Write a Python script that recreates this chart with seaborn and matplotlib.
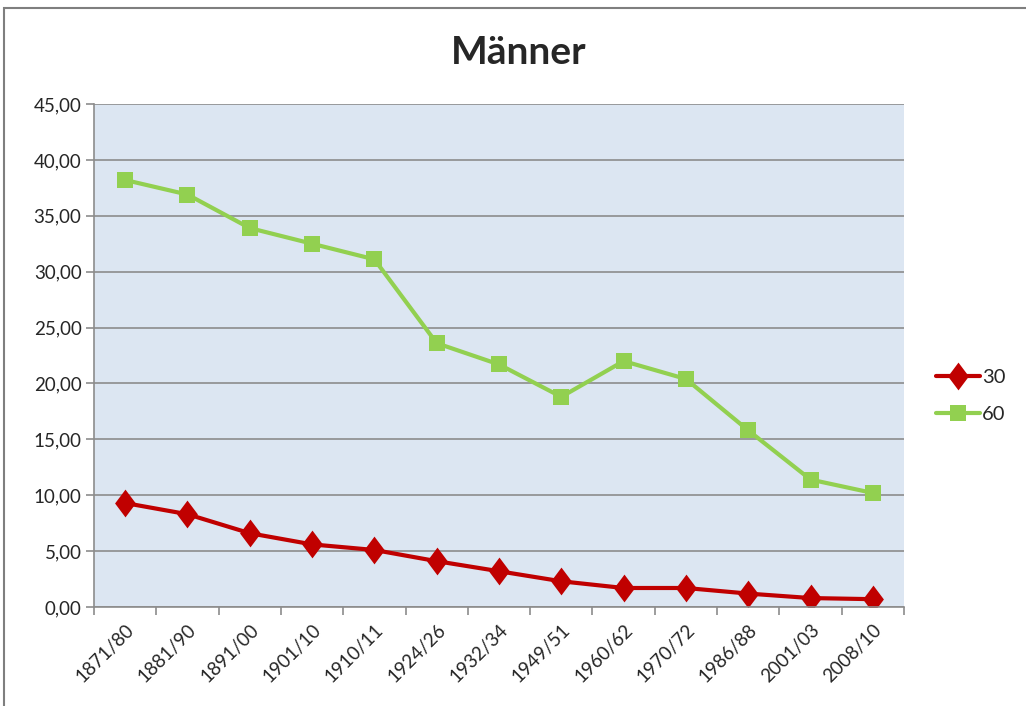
import numpy as np
import pandas as pd
import seaborn as sns
import matplotlib.pyplot as plt
from matplotlib.ticker import FuncFormatter, FixedLocator
from matplotlib.patches import Rectangle

perioden = ['1871/80', '1881/90', '1891/00', '1901/10', '1910/11', '1924/26', '1932/34',
            '1949/51', '1960/62', '1970/72', '1986/88', '2001/03', '2008/10']
werte_30 = [9.3, 8.3, 6.6, 5.6, 5.1, 4.1, 3.2, 2.3, 1.7, 1.7, 1.2, 0.8, 0.7]
werte_60 = [38.2, 36.9, 33.9, 32.5, 31.1, 23.6, 21.7, 18.8, 22.0, 20.4, 15.8, 11.4, 10.2]

df = pd.DataFrame({
    'Periode': perioden * 2,
    'Wert': werte_30 + werte_60,
    'Alter': ['30'] * len(perioden) + ['60'] * len(perioden),
})

sns.set_style('white')
plt.rcParams['font.family'] = ['Lato', 'DejaVu Sans']

fig = plt.figure(figsize=(10.26, 7.06), dpi=100)
ax = fig.add_axes([94 / 1026, 1 - 607 / 706, 810 / 1026, 503 / 706])
ax.set_facecolor('#DCE6F2')

# Excel-artige Raute (etwas schmaler als hoch)
raute = [(0, 1), (0.75, 0), (0, -1), (-0.75, 0), (0, 1)]
farben = {'30': '#C00000', '60': '#92D050'}
marker = {'30': raute, '60': 's'}
sns.lineplot(data=df, x='Periode', y='Wert', hue='Alter', style='Alter',
             palette=farben, markers=marker, dashes=False, linewidth=3,
             markersize=20, markeredgewidth=0, ax=ax, sort=False)
for line in ax.lines:
    if line.get_marker() == 's':
        line.set_markersize(12)

ax.set_xlim(-0.5, len(perioden) - 0.5)
ax.set_ylim(0, 45)
ax.set_yticks(np.arange(0, 46, 5))
ax.yaxis.set_major_formatter(FuncFormatter(lambda v, p: f'{v:.2f}'.replace('.', ',')))
ax.grid(axis='y', color='#8C8C8C', linewidth=1.2)
ax.set_axisbelow(True)

ax.set_xticks(range(len(perioden)))
ax.set_xticklabels(perioden, rotation=45, ha='right', rotation_mode='anchor')
ax.xaxis.set_minor_locator(FixedLocator(np.arange(-0.5, len(perioden), 1)))
ax.tick_params(axis='x', which='major', length=0, pad=10, labelsize=13.5)
ax.tick_params(axis='x', which='minor', length=6, color='#8C8C8C', width=1.2, bottom=True)
ax.tick_params(axis='y', length=6, color='#8C8C8C', width=1.2, left=True, labelsize=13.5, pad=3)

for s in ['top', 'right']:
    ax.spines[s].set_visible(False)
for s in ['left', 'bottom']:
    ax.spines[s].set_color('#8C8C8C')
    ax.spines[s].set_linewidth(1.2)

ax.set_xlabel('')
ax.set_ylabel('')
fig.suptitle('Männer', x=519 / 1026, y=1 - 53 / 706, va='center',
             fontsize=28, fontweight='bold')

ax.legend(loc='center left', bbox_to_anchor=((936 - 94) / 810, 0.42),
          frameon=False, fontsize=14.5, handlelength=2.2, labelspacing=1.0,
          handletextpad=0.1, borderaxespad=0, borderpad=0)

fig.patches.append(Rectangle((4 / 1026, -0.01), 1.05, 1 - 8 / 706 + 0.01,
                             transform=fig.transFigure, fill=False,
                             edgecolor='#7F7F7F', linewidth=1.5))

fig.savefig('out.png', dpi=100)
